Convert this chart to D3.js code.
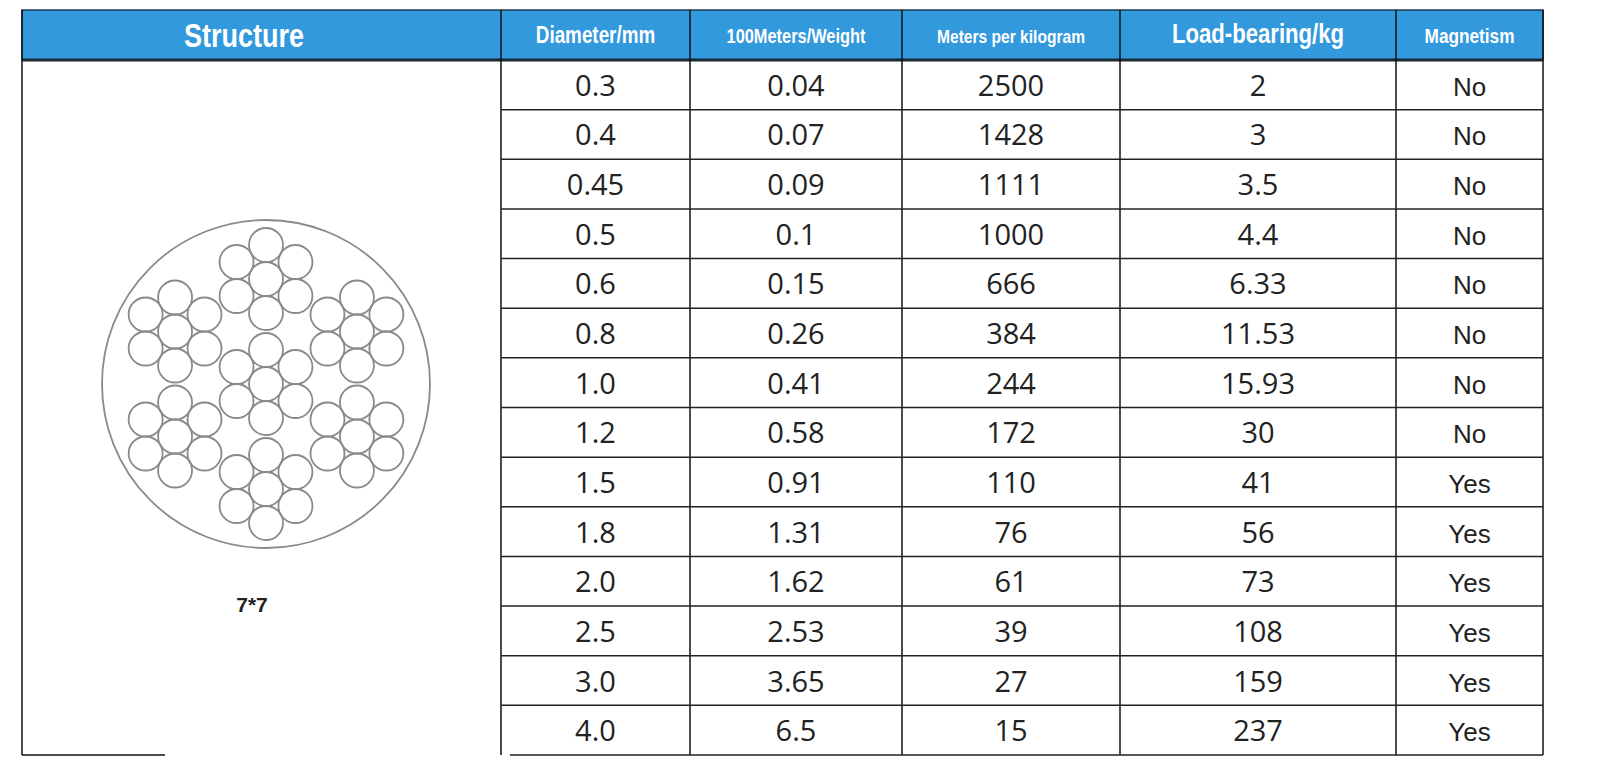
<!DOCTYPE html>
<html><head><meta charset="utf-8">
<script src="https://cdn.jsdelivr.net/npm/d3@7"></script>
<style>body{margin:0;background:#fff}</style>
</head><body><div id="chart"></div>
<script>
// table data
var headers = ["Diameter/mm", "100Meters/Weight", "Meters per kilogram", "Load-bearing/kg", "Magnetism"];
var diameter = ["0.3","0.4","0.45","0.5","0.6","0.8","1.0","1.2","1.5","1.8","2.0","2.5","3.0","4.0"];
var weight = ["0.04","0.07","0.09","0.1","0.15","0.26","0.41","0.58","0.91","1.31","1.62","2.53","3.65","6.5"];
var perKg = ["2500","1428","1111","1000","666","384","244","172","110","76","61","39","27","15"];
var load = ["2","3","3.5","4.4","6.33","11.53","15.93","30","41","56","73","108","159","237"];
var magnet = ["No","No","No","No","No","No","No","No","Yes","Yes","Yes","Yes","Yes","Yes"];
var structureLabel = "7*7";

var svg = d3.select("#chart").append("svg").attr("width", 1600).attr("height", 780);

var colEdges = [501, 690, 902, 1120, 1396, 1543];
var headTop = 10, headBot = 60, rowBot = 755;
var y = d3.scaleBand().domain(d3.range(diameter.length)).range([headBot, rowBot]);

// condensed header text: squeeze horizontally
function headText(x, yy, size, txt) {
  svg.append("text").attr("transform", "translate(" + x + "," + yy + ") scale(0.82,1)")
    .attr("text-anchor", "middle").attr("font-family", "Liberation Sans, sans-serif")
    .attr("font-size", size).attr("font-weight", "bold").attr("fill", "#fff").text(txt);
}

// header
svg.append("rect").attr("x", 22).attr("y", headTop).attr("width", 1521).attr("height", headBot - headTop)
  .attr("fill", "#3299dd").attr("stroke", "#1d3c55").attr("stroke-width", 1.5);
svg.append("line").attr("x1", 22).attr("x2", 1543).attr("y1", headBot).attr("y2", headBot)
  .attr("stroke", "#1a2a36").attr("stroke-width", 3);
headText(244, 47, 33, "Structure");
var headSizes = [23, 20, 19, 27, 21];
headers.forEach(function(h, i) {
  svg.append("line").attr("x1", colEdges[i]).attr("x2", colEdges[i]).attr("y1", headTop).attr("y2", rowBot)
    .attr("stroke", "#111").attr("stroke-width", 1.5);
  headText((colEdges[i] + colEdges[i + 1]) / 2, 43, headSizes[i], h);
});
svg.append("line").attr("x1", 1543).attr("x2", 1543).attr("y1", headTop).attr("y2", rowBot)
  .attr("stroke", "#111").attr("stroke-width", 1.5);
svg.append("line").attr("x1", 22).attr("x2", 22).attr("y1", headTop).attr("y2", rowBot)
  .attr("stroke", "#111").attr("stroke-width", 1.5);

// rows
var cols = [diameter, weight, perKg, load, magnet];
diameter.forEach(function(d, r) {
  svg.append("line").attr("x1", r == diameter.length - 1 ? 510 : 501).attr("x2", 1543)
    .attr("y1", y(r) + y.bandwidth()).attr("y2", y(r) + y.bandwidth())
    .attr("stroke", "#222").attr("stroke-width", 1.5);
  cols.forEach(function(c, i) {
    var isMag = i == 4;
    svg.append("text").attr("x", (colEdges[i] + colEdges[i + 1]) / 2)
      .attr("y", y(r) + y.bandwidth() / 2 + (isMag ? 11 : 11))
      .attr("text-anchor", "middle")
      .attr("font-family", isMag ? "Liberation Sans, sans-serif" : "Open Sans, sans-serif")
      .attr("font-size", isMag ? 26 : 29).attr("fill", "#222").text(c[r]);
  });
});
svg.append("line").attr("x1", 22).attr("x2", 165).attr("y1", rowBot).attr("y2", rowBot)
  .attr("stroke", "#111").attr("stroke-width", 1.5);

// 7*7 strand diagram
var cx = 266, cy = 384, wireR = 17, wireGap = 34, strandGap = 105;
var g = svg.append("g").attr("fill", "none").attr("stroke", "#8a8a8a").attr("stroke-width", 1.8);
g.append("circle").attr("cx", cx).attr("cy", cy).attr("r", 164);
var strandAngles = [null, 90, 30, -30, -90, -150, 150];
strandAngles.forEach(function(a) {
  var sx = cx, sy = cy;
  if (a !== null) { sx += strandGap * Math.cos(a * Math.PI / 180); sy -= strandGap * Math.sin(a * Math.PI / 180); }
  [null, 90, 30, -30, -90, -150, 150].forEach(function(b) {
    var wx = sx, wy = sy;
    if (b !== null) { wx += wireGap * Math.cos(b * Math.PI / 180); wy -= wireGap * Math.sin(b * Math.PI / 180); }
    g.append("circle").attr("cx", wx).attr("cy", wy).attr("r", wireR);
  });
});
svg.append("text").attr("x", 252).attr("y", 612).attr("text-anchor", "middle")
  .attr("font-family", "Liberation Sans, sans-serif").attr("font-weight", "bold").attr("font-size", 21)
  .attr("fill", "#222").text(structureLabel);
</script>
</body></html>
